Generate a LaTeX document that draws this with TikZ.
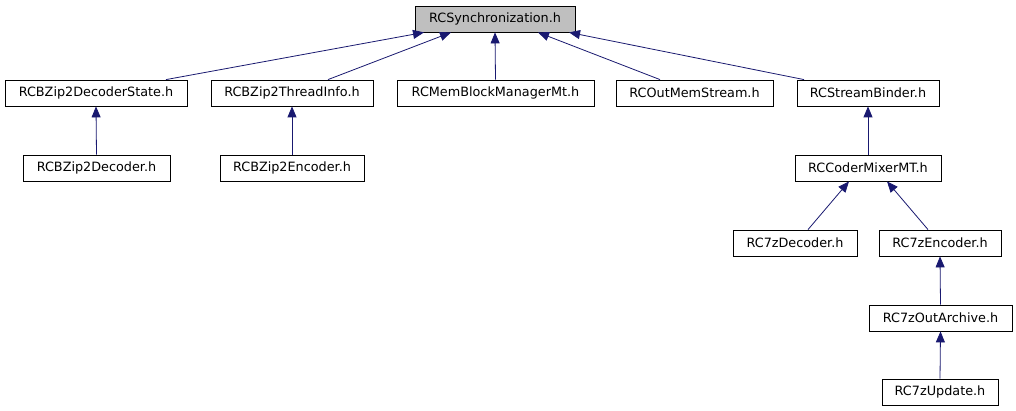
\documentclass[tikz,border=0pt]{standalone}
\usepackage{fontspec}
\setmainfont{DejaVu Sans}
\usetikzlibrary{arrows.meta,calc}
\definecolor{edgeblue}{HTML}{191970}
\definecolor{rootgray}{HTML}{BFBFBF}
\begin{document}
\begin{tikzpicture}[x=1pt,y=-1pt,
  box/.style={draw=black,line width=0.8pt,fill=white,minimum height=26pt,inner sep=0pt,font=\fontsize{12.8}{14}\selectfont,anchor=center},
  dep/.style={draw=edgeblue,line width=0.8pt,-{Triangle[length=11pt,width=9pt]}}]
\useasboundingbox (0,0) rectangle (1016,411);
\fill[white] (0,0) rectangle (1016,411);
\node[box,fill=rootgray,minimum width=160pt] (sync) at (495,19) {RCSynchronization.h};
\node[box,minimum width=182pt] (ds) at (96,93) {RCBZip2DecoderState.h};
\node[box,minimum width=162pt] (ti) at (292,93) {RCBZip2ThreadInfo.h};
\node[box,minimum width=197pt] (mem) at (495.5,93) {RCMemBlockManagerMt.h};
\node[box,minimum width=157pt] (oms) at (694.5,93) {RCOutMemStream.h};
\node[box,minimum width=142pt] (sb) at (868,93) {RCStreamBinder.h};
\node[box,minimum width=147pt] (bdec) at (96.5,168) {RCBZip2Decoder.h};
\node[box,minimum width=144pt] (benc) at (292,168) {RCBZip2Encoder.h};
\node[box,minimum width=146pt] (cm) at (868,168) {RCCoderMixerMT.h};
\node[box,minimum width=124pt] (dec) at (795,243) {RC7zDecoder.h};
\node[box,minimum width=122pt] (enc) at (940,243) {RC7zEncoder.h};
\node[box,minimum width=143pt] (oa) at (940.5,318) {RC7zOutArchive.h};
\node[box,minimum width=116pt] (upd) at (940,392) {RC7zUpdate.h};
\draw[dep] ([xshift=70pt]ds.north) -- ([xshift=-71pt]sync.south);
\draw[dep] ([xshift=36pt]ti.north) -- ([xshift=-44pt]sync.south);
\draw[dep] (mem.north) -- (sync.south);
\draw[dep] ([xshift=-34.5pt]oms.north) -- ([xshift=43pt]sync.south);
\draw[dep] ([xshift=-64pt]sb.north) -- ([xshift=74pt]sync.south);
\draw[dep] (bdec.north) -- (ds.south);
\draw[dep] (benc.north) -- (ti.south);
\draw[dep] (cm.north) -- (sb.south);
\draw[dep] ([xshift=13pt]dec.north) -- ([xshift=-19pt]cm.south);
\draw[dep] ([xshift=-12pt]enc.north) -- ([xshift=19pt]cm.south);
\draw[dep] (oa.north) -- (enc.south);
\draw[dep] (upd.north) -- (oa.south);
\end{tikzpicture}
\end{document}
